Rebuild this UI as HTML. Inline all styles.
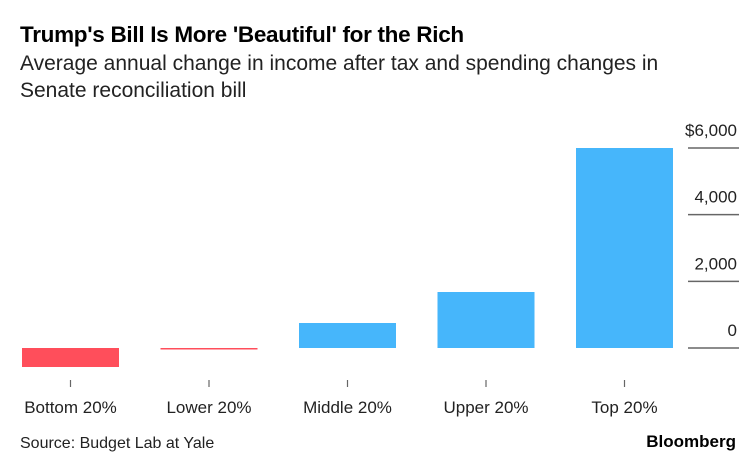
<!DOCTYPE html>
<html><head><meta charset="utf-8"><style>
body{margin:0;background:#fff;font-family:"Liberation Sans",sans-serif;}
#wrap{position:relative;width:756px;height:475px;overflow:hidden}
</style></head><body>
<div id="wrap">
<div style="position:absolute;left:20px;top:22px;font-size:22.5px;font-weight:bold;color:#000;letter-spacing:-0.3px">Trump's Bill Is More 'Beautiful' for the Rich</div>
<div style="position:absolute;left:20px;top:50px;font-size:21px;line-height:27px;color:#222;width:670px">Average annual change in income after tax and spending changes in Senate reconciliation bill</div>
<svg id="chart" width="756" height="475" style="position:absolute;left:0;top:0"></svg>
<div style="position:absolute;left:20px;top:435px;font-size:16px;color:#222">Source: Budget Lab at Yale</div>
<div style="position:absolute;right:20px;top:432px;font-size:17px;font-weight:bold;color:#000">Bloomberg</div>
</div>
<script>
const categories=["Bottom 20%","Lower 20%","Middle 20%","Upper 20%","Top 20%"];
const values=[-570,-30,750,1680,6000];
const ticks=[0,2000,4000,6000];
const tickLabels=["0","2,000","4,000","$6,000"];
const svg=document.getElementById('chart');
const NS='http://www.w3.org/2000/svg';
function y(v){return 348-v*(200/6000);}
function x(i){return 22+i*138.5;}
const bw=97;
function mk(t,a){const e=document.createElementNS(NS,t);for(const k in a)e.setAttribute(k,a[k]);svg.appendChild(e);return e;}
ticks.forEach((t,i)=>{
 const l=mk('line',{x1:688,x2:739,y1:y(t),y2:y(t),stroke:'#666','stroke-width':1.5});
 
 
 const tx=mk('text',{x:737,y:y(t)-12,'text-anchor':'end','font-size':17,fill:'#222','font-family':'Liberation Sans, sans-serif'});
 tx.textContent=tickLabels[i];
 
 
});
categories.forEach((c,i)=>{
 const v=values[i];
 const top=Math.min(y(v),y(0)), h=Math.max(Math.abs(y(v)-y(0)),1.5);
 const r=mk('rect',{x:x(i),y:top,width:bw,height:h,fill:v<0?'#ff4e5b':'#46b6fb'});
 
 
 const tk=mk('line',{x1:x(i)+bw/2,x2:x(i)+bw/2,y1:380,y2:387,stroke:'#666','stroke-width':1.2});
 
 
 const t=mk('text',{x:x(i)+bw/2,y:413,'text-anchor':'middle','font-size':17,fill:'#222','font-family':'Liberation Sans, sans-serif'});
 t.textContent=c;
 
 
});
</script>
</body></html>
